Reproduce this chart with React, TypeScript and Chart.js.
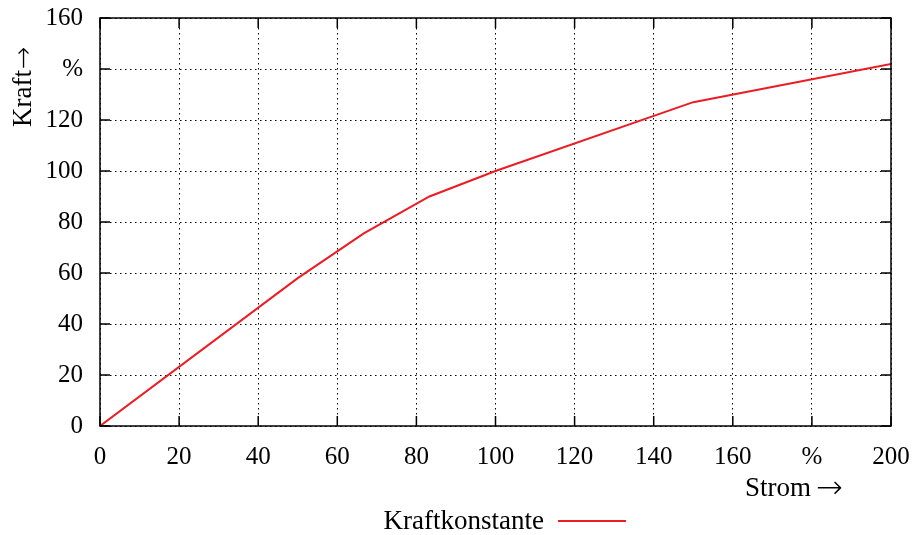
import React, { useEffect, useRef } from "react";
import { Chart, registerables } from "chart.js";
Chart.register(...registerables);

const xValues = [0, 50, 66.7, 83.3, 100, 150, 200];
const yValues = [0, 58, 75.5, 90, 100, 127, 142];
const xTicks = [0, 20, 40, 60, 80, 100, 120, 140, 160, 180, 200];
const yTicks = [0, 20, 40, 60, 80, 100, 120, 140, 160];
const xTickLabels = ["0", "20", "40", "60", "80", "100", "120", "140", "160", "%", "200"];
const yTickLabels = ["0", "20", "40", "60", "80", "100", "120", "%", "160"];
const seriesName = "Kraftkonstante";
const xTitleText = "Strom";
const yTitleText = "Kraft";
const arrow = "\u2192";

const FONT = "'Liberation Serif', 'DejaVu Serif', serif";
const ARROW_FONT = "'DejaVu Sans ExtraLight', 'DejaVu Sans', sans-serif";
const RED = "rgb(235,28,36)";

const decor = {
  id: "decor",
  afterDatasetsDraw(chart: any) {
    const { ctx, chartArea: a, scales } = chart;
    ctx.save();
    ctx.strokeStyle = "#000";
    ctx.lineWidth = 1.5;
    const L = 10;
    xTicks.forEach((v) => {
      const x = scales.x.getPixelForValue(v);
      ctx.beginPath();
      ctx.moveTo(x, a.bottom);
      ctx.lineTo(x, a.bottom - L);
      ctx.moveTo(x, a.top);
      ctx.lineTo(x, a.top + L);
      ctx.stroke();
    });
    yTicks.forEach((v) => {
      const y = scales.y.getPixelForValue(v);
      ctx.beginPath();
      ctx.moveTo(a.left, y);
      ctx.lineTo(a.left + L, y);
      ctx.moveTo(a.right, y);
      ctx.lineTo(a.right - L, y);
      ctx.stroke();
    });
    ctx.strokeRect(a.left, a.top, a.right - a.left, a.bottom - a.top);
    // x axis title
    ctx.fillStyle = "#000";
    ctx.textBaseline = "alphabetic";
    ctx.font = "27px " + FONT;
    ctx.textAlign = "left";
    ctx.fillText(xTitleText, 745, 496);
    ctx.font = "200 32px " + ARROW_FONT;
    ctx.fillText(arrow, 816, 498);
    // y axis title
    ctx.save();
    ctx.translate(31, 127);
    ctx.rotate(-Math.PI / 2);
    ctx.font = "27px " + FONT;
    ctx.textAlign = "left";
    ctx.fillText(yTitleText, 0, 0);
    const w = ctx.measureText(yTitleText).width;
    ctx.font = "200 27px " + ARROW_FONT;
    ctx.fillText(arrow, w + 1, 1);
    ctx.restore();
    // legend
    ctx.font = "27px " + FONT;
    ctx.textAlign = "right";
    ctx.fillText(seriesName, 544, 529);
    ctx.strokeStyle = RED;
    ctx.lineWidth = 2;
    ctx.beginPath();
    ctx.moveTo(558, 521);
    ctx.lineTo(626, 521);
    ctx.stroke();
    ctx.restore();
  },
};

export default function App() {
  const ref = useRef<HTMLCanvasElement>(null);
  useEffect(() => {
    const chart = new Chart(ref.current!, {
      type: "line",
      data: {
        datasets: [
          {
            label: seriesName,
            data: xValues.map((x, i) => ({ x, y: yValues[i] })),
            borderColor: RED,
            borderWidth: 2,
            pointRadius: 0,
            tension: 0,
            fill: false,
          },
        ],
      },
      options: {
        animation: false,
        responsive: false,
        layout: { autoPadding: false, padding: { top: 18, right: 27, left: 0, bottom: 0 } },
        plugins: { legend: { display: false }, tooltip: { enabled: false } },
        scales: {
          x: {
            type: "linear",
            min: 0,
            max: 200,
            afterFit: (s: any) => {
              s.height = 109;
              s.paddingLeft = 0;
              s.paddingRight = 0;
            },
            afterBuildTicks: (s: any) => {
              s.ticks = xTicks.map((v) => ({ value: v }));
            },
            ticks: {
              padding: 16,
              color: "#000",
              font: { family: FONT, size: 25 },
              maxRotation: 0,
              autoSkip: false,
              callback: (v: any) => xTickLabels[xTicks.indexOf(Number(v))] ?? "",
            },
            grid: {
              color: "#000",
              lineWidth: 1,
              drawTicks: false,
            },
            border: { display: false, dash: [1.5, 3.5] },
          },
          y: {
            type: "linear",
            min: 0,
            max: 160,
            afterFit: (s: any) => {
              s.width = 100;
              s.paddingTop = 0;
              s.paddingBottom = 0;
            },
            afterBuildTicks: (s: any) => {
              s.ticks = yTicks.map((v) => ({ value: v }));
            },
            ticks: {
              padding: 17,
              color: "#000",
              font: { family: FONT, size: 25 },
              autoSkip: false,
              callback: (v: any) => yTickLabels[yTicks.indexOf(Number(v))] ?? "",
            },
            grid: {
              color: "#000",
              lineWidth: 1,
              drawTicks: false,
            },
            border: { display: false, dash: [1.5, 3.5] },
          },
        },
      },
      plugins: [decor],
    } as any);
    return () => chart.destroy();
  }, []);
  return (
    <div style={{ position: "fixed", left: 0, top: 0, width: 918, height: 535, background: "#fff" }}>
      <canvas ref={ref} width={918} height={535} style={{ width: 918, height: 535 }} />
    </div>
  );
}
